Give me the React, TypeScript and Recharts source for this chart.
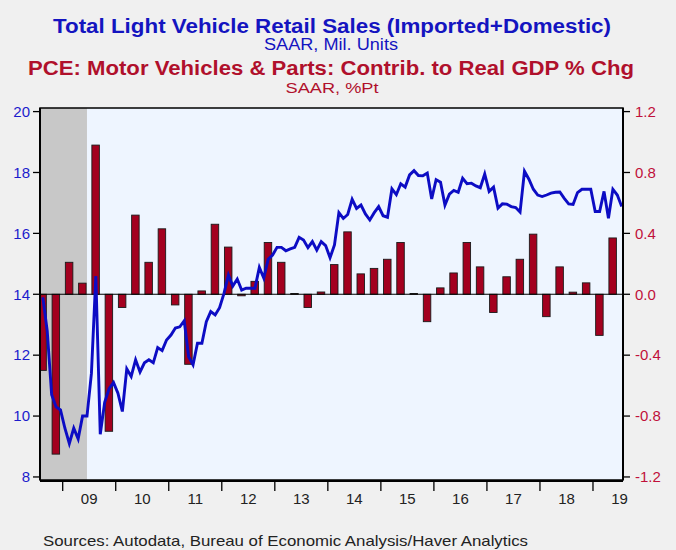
import React from "react";
import {
  ComposedChart,
  Line,
  Bar,
  XAxis,
  YAxis,
  CartesianGrid,
  ReferenceArea,
  ReferenceLine,
} from "recharts";

const FONT = '"Liberation Sans", Arial, Helvetica, sans-serif';
const BLUE = "#0C0CC4";
const RED = "#B0102C";

// Total light vehicle sales, SAAR mil. units (monthly, Aug 2008 - Jul 2019)
const years = [2008, 2009, 2010, 2011, 2012, 2013, 2014, 2015, 2016, 2017, 2018, 2019];
const sales08 = [13.9, 12.8, 10.7, 10.3, 10.2];
const sales09 = [9.6, 9.1, 9.6, 9.25, 10.0, 10.0, 11.4, 14.6, 9.4, 10.45, 10.9, 11.1];
const sales10 = [10.75, 10.15, 11.55, 11.3, 11.85, 11.45, 11.75, 11.85, 11.75, 12.25, 12.15, 12.5];
const sales11 = [12.66, 12.89, 12.93, 13.13, 11.95, 11.68, 12.39, 12.39, 13.1, 13.43, 13.32, 13.56];
const sales12 = [14.03, 14.63, 14.27, 14.5, 14.14, 14.2, 14.2, 14.2, 14.88, 14.53, 15.15, 15.29];
const sales13 = [15.54, 15.54, 15.43, 15.49, 15.54, 15.87, 15.78, 15.53, 15.73, 15.45, 15.73, 15.6];
const sales14 = [15.2, 15.62, 16.68, 16.49, 16.62, 17.12, 16.82, 16.93, 16.64, 16.44, 16.68, 16.88];
const sales15 = [16.58, 16.53, 17.46, 17.27, 17.63, 17.52, 17.92, 18.06, 17.9, 17.89, 17.98, 17.13];
const sales16 = [17.76, 17.68, 16.93, 17.29, 17.41, 17.35, 17.81, 17.63, 17.65, 17.56, 17.5, 17.95];
const sales17 = [17.38, 17.52, 16.83, 16.97, 16.96, 16.88, 16.85, 16.7, 18.04, 17.78, 17.45, 17.26];
const sales18 = [17.21, 17.26, 17.32, 17.35, 17.36, 17.15, 16.97, 16.95, 17.34, 17.45, 17.45, 17.45];
const sales19 = [16.72, 16.72, 17.38, 16.5, 17.45, 17.26, 16.88];
const salesFirstMonth = 8;

// PCE motor vehicles & parts, contribution to real GDP % chg (quarterly, 2008Q3 - 2019Q2)
const pce08 = [-0.5, -1.05];
const pce09 = [0.21, 0.073, 0.98, -0.9];
const pce10 = [-0.087, 0.52, 0.21, 0.43];
const pce11 = [-0.07, -0.46, 0.022, 0.46];
const pce12 = [0.31, -0.01, 0.085, 0.34];
const pce13 = [0.21, 0.005, -0.087, 0.015];
const pce14 = [0.195, 0.41, 0.134, 0.17];
const pce15 = [0.23, 0.34, 0.005, -0.18];
const pce16 = [0.042, 0.14, 0.34, 0.18];
const pce17 = [-0.12, 0.115, 0.23, 0.395];
const pce18 = [-0.147, 0.18, 0.014, 0.075];
const pce19 = [-0.27, 0.37];
const pceFirstQuarter = 3;

// NBER recession (Dec 2007 - Jun 2009)
const recession = [2007.917, 2009.458];

const yearTicks = [2009, 2010, 2011, 2012, 2013, 2014, 2015, 2016, 2017, 2018, 2019];
const labelTicks = [2009.5, 2010.5, 2011.5, 2012.5, 2013.5, 2014.5, 2015.5, 2016.5, 2017.5, 2018.5, 2019.5];
const leftTicks = [8, 10, 12, 14, 16, 18, 20];
const rightTicks = [-1.2, -0.8, -0.4, 0, 0.4, 0.8, 1.2];

const xDomain = [2008.572, 2019.566];
const leftDomain = [7.9, 20.118];
const rightDomain = [-1.22, 1.2236];

const salesSeries = [sales08, sales09, sales10, sales11, sales12, sales13, sales14, sales15, sales16, sales17, sales18, sales19];
const pceSeries = [pce08, pce09, pce10, pce11, pce12, pce13, pce14, pce15, pce16, pce17, pce18, pce19];

// monthly rows; quarterly bar sits on the middle month of its quarter
const data: { t: number; sales: number; pce: number | null }[] = [];
salesSeries.forEach((vals, i) => {
  const year = years[i];
  const m0 = i === 0 ? salesFirstMonth : 1;
  const q0 = i === 0 ? pceFirstQuarter : 1;
  vals.forEach((v, j) => {
    const month = m0 + j;
    let pce: number | null = null;
    if (month % 3 === 2) {
      const pv = pceSeries[i][(month + 1) / 3 - q0];
      if (pv !== undefined) pce = pv;
    }
    data.push({ t: year + (month - 0.5) / 12, sales: v, pce });
  });
});

const BarShape = (props: any) => {
  const { x, y, width, height, payload } = props;
  if (!payload || payload.pce == null || !isFinite(x) || !isFinite(y)) return <g />;
  const cx = x + width / 2;
  const top = Math.min(y, y + height);
  const h = Math.max(Math.abs(height), 0.6);
  return (
    <rect x={cx - 3.75} y={top} width={7.5} height={h} fill="#A3001F" stroke="#1a1a1a" strokeWidth={0.9} />
  );
};

const yr = (v: number) => String(Math.floor(v) % 100).padStart(2, "0");

export default function App() {
  return (
    <div
      style={{
        position: "absolute",
        left: 0,
        top: 0,
        width: 676,
        height: 550,
        background: "#F0F0F0",
        fontFamily: FONT,
      }}
    >
      <ComposedChart
        width={676}
        height={550}
        data={data}
        margin={{ top: 108, right: 0, bottom: 68, left: 0 }}
        style={{ position: "absolute", left: 0, top: 0 }}
      >
        <CartesianGrid xAxisId="main" yAxisId="left" horizontal={false} vertical={false} fill="#EEF5FF" stroke="none" />
        <ReferenceArea
          xAxisId="main"
          yAxisId="left"
          x1={recession[0]}
          x2={recession[1]}
          ifOverflow="hidden"
          fill="#C8C8C8"
          fillOpacity={1}
          stroke="none"
          zIndex={-50}
        />
        <XAxis
          xAxisId="main"
          type="number"
          dataKey="t"
          domain={xDomain}
          allowDataOverflow
          ticks={yearTicks}
          interval={0}
          tickFormatter={() => ""}
          height={1}
          tickSize={10}
          axisLine={{ stroke: "#000", strokeWidth: 2 }}
          tickLine={{ stroke: "#000", strokeWidth: 1.3 }}
        />
        <XAxis
          xAxisId="lab"
          type="number"
          dataKey="t"
          domain={xDomain}
          allowDataOverflow
          ticks={labelTicks}
          interval={0}
          tickFormatter={yr}
          height={1}
          tickSize={0}
          tickMargin={13.5}
          axisLine={false}
          tickLine={false}
          tick={{ fill: "#222", fontSize: 15, fontFamily: FONT }}
        />
        <YAxis
          yAxisId="left"
          width={40}
          domain={leftDomain}
          allowDataOverflow
          ticks={leftTicks}
          interval={0}
          tickSize={7}
          tickMargin={3}
          axisLine={{ stroke: "#000", strokeWidth: 2 }}
          tickLine={{ stroke: "#000", strokeWidth: 1.3 }}
          tick={{ fill: "#1C1CCC", fontSize: 15, fontFamily: FONT }}
        />
        <YAxis
          yAxisId="right"
          orientation="right"
          width={53}
          domain={rightDomain}
          allowDataOverflow
          ticks={rightTicks}
          interval={0}
          tickSize={7}
          tickMargin={5}
          tickFormatter={(v: number) => v.toFixed(1)}
          axisLine={{ stroke: "#000", strokeWidth: 2 }}
          tickLine={{ stroke: "#000", strokeWidth: 1.3 }}
          tick={{ fill: "#C0103A", fontSize: 15, fontFamily: FONT }}
        />
        <Bar
          xAxisId="main"
          yAxisId="right"
          dataKey="pce"
          barSize={8}
          shape={BarShape}
          isAnimationActive={false}
        />
        <ReferenceLine xAxisId="main" yAxisId="right" y={0} stroke="#000" strokeWidth={1.2} />
        <Line
          xAxisId="main"
          yAxisId="left"
          type="linear"
          dataKey="sales"
          stroke={BLUE}
          strokeWidth={2.9}
          dot={false}
          activeDot={false}
          isAnimationActive={false}
        />
        <ReferenceArea
          xAxisId="main"
          yAxisId="left"
          x1={xDomain[0]}
          x2={xDomain[1]}
          y1={leftDomain[0]}
          y2={leftDomain[1]}
          fill="none"
          stroke="#000"
          strokeWidth={1.5}
          zIndex={600}
        />
      </ComposedChart>
      <svg
        width={676}
        height={550}
        style={{ position: "absolute", left: 0, top: 0, pointerEvents: "none" }}
      >
        <g fontFamily={FONT}>
          <text x={332} y={32.5} textAnchor="middle" fontSize={20} fontWeight="bold" fill="#1414C0" textLength={558} lengthAdjust="spacingAndGlyphs">
            Total Light Vehicle Retail Sales (Imported+Domestic)
          </text>
          <text x={331} y={49.5} textAnchor="middle" fontSize={16} fill="#1414C0" textLength={134} lengthAdjust="spacingAndGlyphs">
            SAAR, Mil. Units
          </text>
          <text x={331} y={75} textAnchor="middle" fontSize={20} fontWeight="bold" fill={RED} textLength={606} lengthAdjust="spacingAndGlyphs">
            PCE: Motor Vehicles &amp; Parts: Contrib. to Real GDP % Chg
          </text>
          <text x={332} y={92.5} textAnchor="middle" fontSize={15.5} fill={RED} textLength={93} lengthAdjust="spacingAndGlyphs">
            SAAR, %Pt
          </text>
          <text x={43} y={546} fontSize={15} fill="#222" textLength={485} lengthAdjust="spacingAndGlyphs">
            Sources:  Autodata, Bureau of Economic Analysis/Haver Analytics
          </text>
        </g>
      </svg>
    </div>
  );
}
